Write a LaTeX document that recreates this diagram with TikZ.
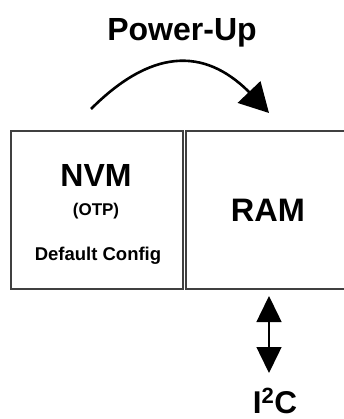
\documentclass[tikz,border=0pt]{standalone}
\usepackage{fontspec}
\setmainfont{Liberation Sans}
\usetikzlibrary{arrows.meta}
\begin{document}
\begin{tikzpicture}[x=1pt,y=-1pt,
  memblock/.style={draw=black!75,line width=1.3pt,inner sep=0pt},
  lbl/.style={inner sep=0pt,anchor=base}]
\useasboundingbox (0,0) rectangle (343,419);
% memory blocks
\node[memblock,minimum width=172pt,minimum height=158pt] (nvm) at (97,210) {};
\node[memblock,minimum width=166pt,minimum height=158pt] (ram) at (269,210) {};
% block texts
\node[lbl,font=\bfseries\fontsize{32}{32}\selectfont] (nvmt) at (96,187) {NVM};
\node[lbl,font=\bfseries\fontsize{17}{17}\selectfont] (otp) at (96,215) {(OTP)};
\node[lbl,font=\bfseries\fontsize{18.5}{18.5}\selectfont] (cfg) at (98,260) {Default Config};
\node[lbl,font=\bfseries\fontsize{32.5}{32.5}\selectfont] (ramt) at (268,222) {RAM};
% power-up transfer
\node[lbl,font=\bfseries\fontsize{32}{32}\selectfont] (pu) at (182,41) {Power-Up};
\coordinate (s) at (91,109);
\coordinate (b) at (249,92);
\coordinate (e) at (269,113);
\draw[line width=2.6pt,-{Triangle[length=29pt,width=31pt]}]
  (s) .. controls (150,50) and (203,46) .. (b) -- (e);
% I2C bus
\coordinate (bt) at (269,296);
\coordinate (bb) at (269,373);
\draw[line width=1.5pt,{Triangle[length=26pt,width=25pt]}-{Triangle[length=26pt,width=25pt]}] (bt) -- (bb);
\node[lbl,font=\bfseries\fontsize{31.5}{31.5}\selectfont] (i2c) at (275,413) {I\textsuperscript{2}C};
\end{tikzpicture}
\end{document}
